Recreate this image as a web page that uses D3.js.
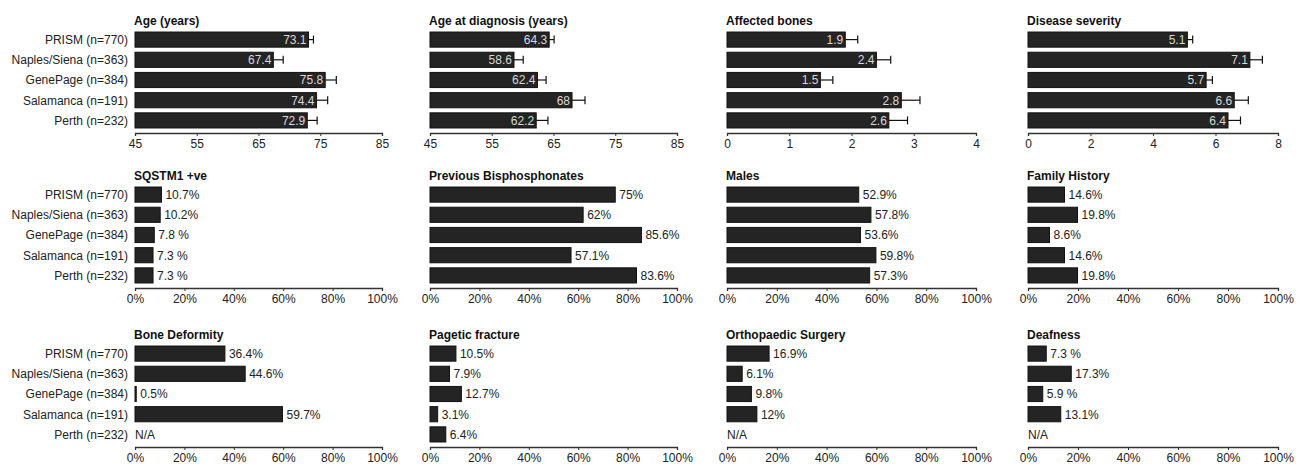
<!DOCTYPE html>
<html>
<head>
  <script src="https://d3js.org/d3.v7.min.js"></script>
  <style>
    html, body {
      margin: 0px;
      padding: 0px;
      background: #fff;
      font-family: "Liberation Sans", Arial, Helvetica, sans-serif;
    }
    .axis text { font-size: 12px; fill: #222; font-family: "Liberation Sans", Arial, sans-serif; }
    .axis path, .axis line { stroke: #333; }
    .title { font-size: 12px; font-weight: bold; fill: #111; }
    .cat { font-size: 12px; fill: #222; }
    .val { font-size: 12px; fill: #222; }
    .inval { font-size: 12px; fill: #d8d8d8; }
  </style>
</head>
<body>
  <div id="chart"></div>
  <script>
    // cohorts (same order in every panel)
    const cohorts = ["PRISM (n=770)", "Naples/Siena (n=363)", "GenePage (n=384)", "Salamanca (n=191)", "Perth (n=232)"];

    // top row: means with error bars
    const ageValues = [73.1, 67.4, 75.8, 74.4, 72.9];
    const ageErrors = [0.8, 1.6, 1.8, 1.8, 1.6];
    const ageTicks = [45, 55, 65, 75, 85];

    const diagValues = [64.3, 58.6, 62.4, 68, 62.2];
    const diagErrors = [0.8, 1.5, 1.4, 2.1, 1.9];
    const diagTicks = [45, 55, 65, 75, 85];

    const boneValues = [1.9, 2.4, 1.5, 2.8, 2.6];
    const boneErrors = [0.2, 0.23, 0.2, 0.3, 0.3];
    const boneTicks = [0, 1, 2, 3, 4];

    const severityValues = [5.1, 7.1, 5.7, 6.6, 6.4];
    const severityErrors = [0.17, 0.4, 0.2, 0.45, 0.4];
    const severityTicks = [0, 2, 4, 6, 8];

    // percentage panels (null = N/A)
    const pctTicks = [0, 20, 40, 60, 80, 100];

    const sqstmValues = [10.7, 10.2, 7.8, 7.3, 7.3];
    const sqstmLabels = ["10.7%", "10.2%", "7.8 %", "7.3 %", "7.3 %"];

    const bisphosValues = [75, 62, 85.6, 57.1, 83.6];
    const bisphosLabels = ["75%", "62%", "85.6%", "57.1%", "83.6%"];

    const maleValues = [52.9, 57.8, 53.6, 59.8, 57.3];
    const maleLabels = ["52.9%", "57.8%", "53.6%", "59.8%", "57.3%"];

    const familyValues = [14.6, 19.8, 8.6, 14.6, 19.8];
    const familyLabels = ["14.6%", "19.8%", "8.6%", "14.6%", "19.8%"];

    const deformityValues = [36.4, 44.6, 0.5, 59.7, null];
    const deformityLabels = ["36.4%", "44.6%", "0.5%", "59.7%", "N/A"];

    const fractureValues = [10.5, 7.9, 12.7, 3.1, 6.4];
    const fractureLabels = ["10.5%", "7.9%", "12.7%", "3.1%", "6.4%"];

    const surgeryValues = [16.9, 6.1, 9.8, 12, null];
    const surgeryLabels = ["16.9%", "6.1%", "9.8%", "12%", "N/A"];

    const deafValues = [7.3, 17.3, 5.9, 13.1, null];
    const deafLabels = ["7.3 %", "17.3%", "5.9 %", "13.1%", "N/A"];

    /*
    LAYOUT
    */
    const width = 1301, height = 466;
    const colX = [135, 430, 727, 1028];
    const colW = [247, 247, 249, 250];
    const rowTop = [30, 185, 344];   // top of first bar band
    const bandH = 100;

    const svg = d3.select("#chart").append("svg")
      .attr("width", width)
      .attr("height", height);

    const panels = [
      {row: 0, col: 0, title: "Age (years)", values: ageValues, errors: ageErrors, ticks: ageTicks, domain: [45, 85]},
      {row: 0, col: 1, title: "Age at diagnosis (years)", values: diagValues, errors: diagErrors, ticks: diagTicks, domain: [45, 85]},
      {row: 0, col: 2, title: "Affected bones", values: boneValues, errors: boneErrors, ticks: boneTicks, domain: [0, 4]},
      {row: 0, col: 3, title: "Disease severity", values: severityValues, errors: severityErrors, ticks: severityTicks, domain: [0, 8]},
      {row: 1, col: 0, title: "SQSTM1 +ve", values: sqstmValues, labels: sqstmLabels},
      {row: 1, col: 1, title: "Previous Bisphosphonates", values: bisphosValues, labels: bisphosLabels},
      {row: 1, col: 2, title: "Males", values: maleValues, labels: maleLabels},
      {row: 1, col: 3, title: "Family History", values: familyValues, labels: familyLabels},
      {row: 2, col: 0, title: "Bone Deformity", values: deformityValues, labels: deformityLabels},
      {row: 2, col: 1, title: "Pagetic fracture", values: fractureValues, labels: fractureLabels},
      {row: 2, col: 2, title: "Orthopaedic Surgery", values: surgeryValues, labels: surgeryLabels},
      {row: 2, col: 3, title: "Deafness", values: deafValues, labels: deafLabels}
    ];

    panels.forEach(function(p) {
      const x0 = colX[p.col], w = colW[p.col], y0 = rowTop[p.row];
      const isPct = !p.errors;
      const domain = isPct ? [0, 100] : p.domain;
      const ticks = isPct ? pctTicks : p.ticks;

      const xScale = d3.scaleLinear().domain(domain).range([x0, x0 + w]);
      const yScale = d3.scaleBand().domain(cohorts).range([y0, y0 + bandH]).paddingInner(0.25).paddingOuter(0.1);

      const g = svg.append("g");

      // title
      g.append("text")
        .attr("class", "title")
        .attr("x", x0 - 1)
        .attr("y", y0 - 5)
        .text(p.title);

      // category labels on first column only
      if (p.col === 0) {
        g.selectAll(".cat")
          .data(cohorts)
          .enter()
          .append("text")
            .attr("class", "cat")
            .attr("x", x0 - 7)
            .attr("y", d => yScale(d) + yScale.bandwidth() / 2)
            .attr("dy", "0.36em")
            .attr("text-anchor", "end")
            .text(d => d);
      }

      const rows = cohorts.map((c, i) => ({cohort: c, value: p.values[i], err: p.errors ? p.errors[i] : 0, label: p.labels ? p.labels[i] : String(p.values[i])}));

      // bars
      g.selectAll("rect")
        .data(rows.filter(d => d.value != null))
        .enter()
        .append("rect")
          .attr("x", xScale(domain[0]))
          .attr("y", d => yScale(d.cohort))
          .attr("width", d => xScale(d.value) - xScale(domain[0]))
          .attr("height", yScale.bandwidth())
          .attr("fill", "#242424")
          .attr("stroke", "#111")
          .attr("stroke-width", 1);

      if (!isPct) {
        // error bars
        const eb = g.selectAll(".err")
          .data(rows)
          .enter()
          .append("g")
            .attr("class", "err");
        eb.append("line")
          .attr("x1", d => xScale(d.value))
          .attr("x2", d => xScale(d.value + d.err))
          .attr("y1", d => yScale(d.cohort) + yScale.bandwidth() / 2)
          .attr("y2", d => yScale(d.cohort) + yScale.bandwidth() / 2)
          .attr("stroke", "#111")
          .attr("stroke-width", 1.2);
        eb.append("line")
          .attr("x1", d => xScale(d.value + d.err))
          .attr("x2", d => xScale(d.value + d.err))
          .attr("y1", d => yScale(d.cohort) + yScale.bandwidth() / 2 - 4)
          .attr("y2", d => yScale(d.cohort) + yScale.bandwidth() / 2 + 4)
          .attr("stroke", "#111")
          .attr("stroke-width", 1.2);

        // value inside bar
        g.selectAll(".inval")
          .data(rows)
          .enter()
          .append("text")
            .attr("class", "inval")
            .attr("x", d => xScale(d.value) - 2)
            .attr("y", d => yScale(d.cohort) + yScale.bandwidth() / 2)
            .attr("dy", "0.36em")
            .attr("text-anchor", "end")
            .text(d => d.label);
      } else {
        // value label after bar (N/A at origin)
        g.selectAll(".val")
          .data(rows)
          .enter()
          .append("text")
            .attr("class", "val")
            .attr("x", d => d.value == null ? xScale(0) : xScale(d.value) + 4)
            .attr("y", d => yScale(d.cohort) + yScale.bandwidth() / 2)
            .attr("dy", "0.36em")
            .text(d => d.label);
      }

      // axis
      g.append("g")
        .attr("class", "axis")
        .attr("transform", `translate(0,${y0 + bandH + 3})`)
        .call(d3.axisBottom(xScale)
          .tickValues(ticks)
          .tickSize(3)
          .tickPadding(3)
          .tickFormat(d => isPct ? d + "%" : d));
      g.selectAll(".axis .domain").attr("stroke-width", 1.3);
    });
  </script>
</body>
</html>
